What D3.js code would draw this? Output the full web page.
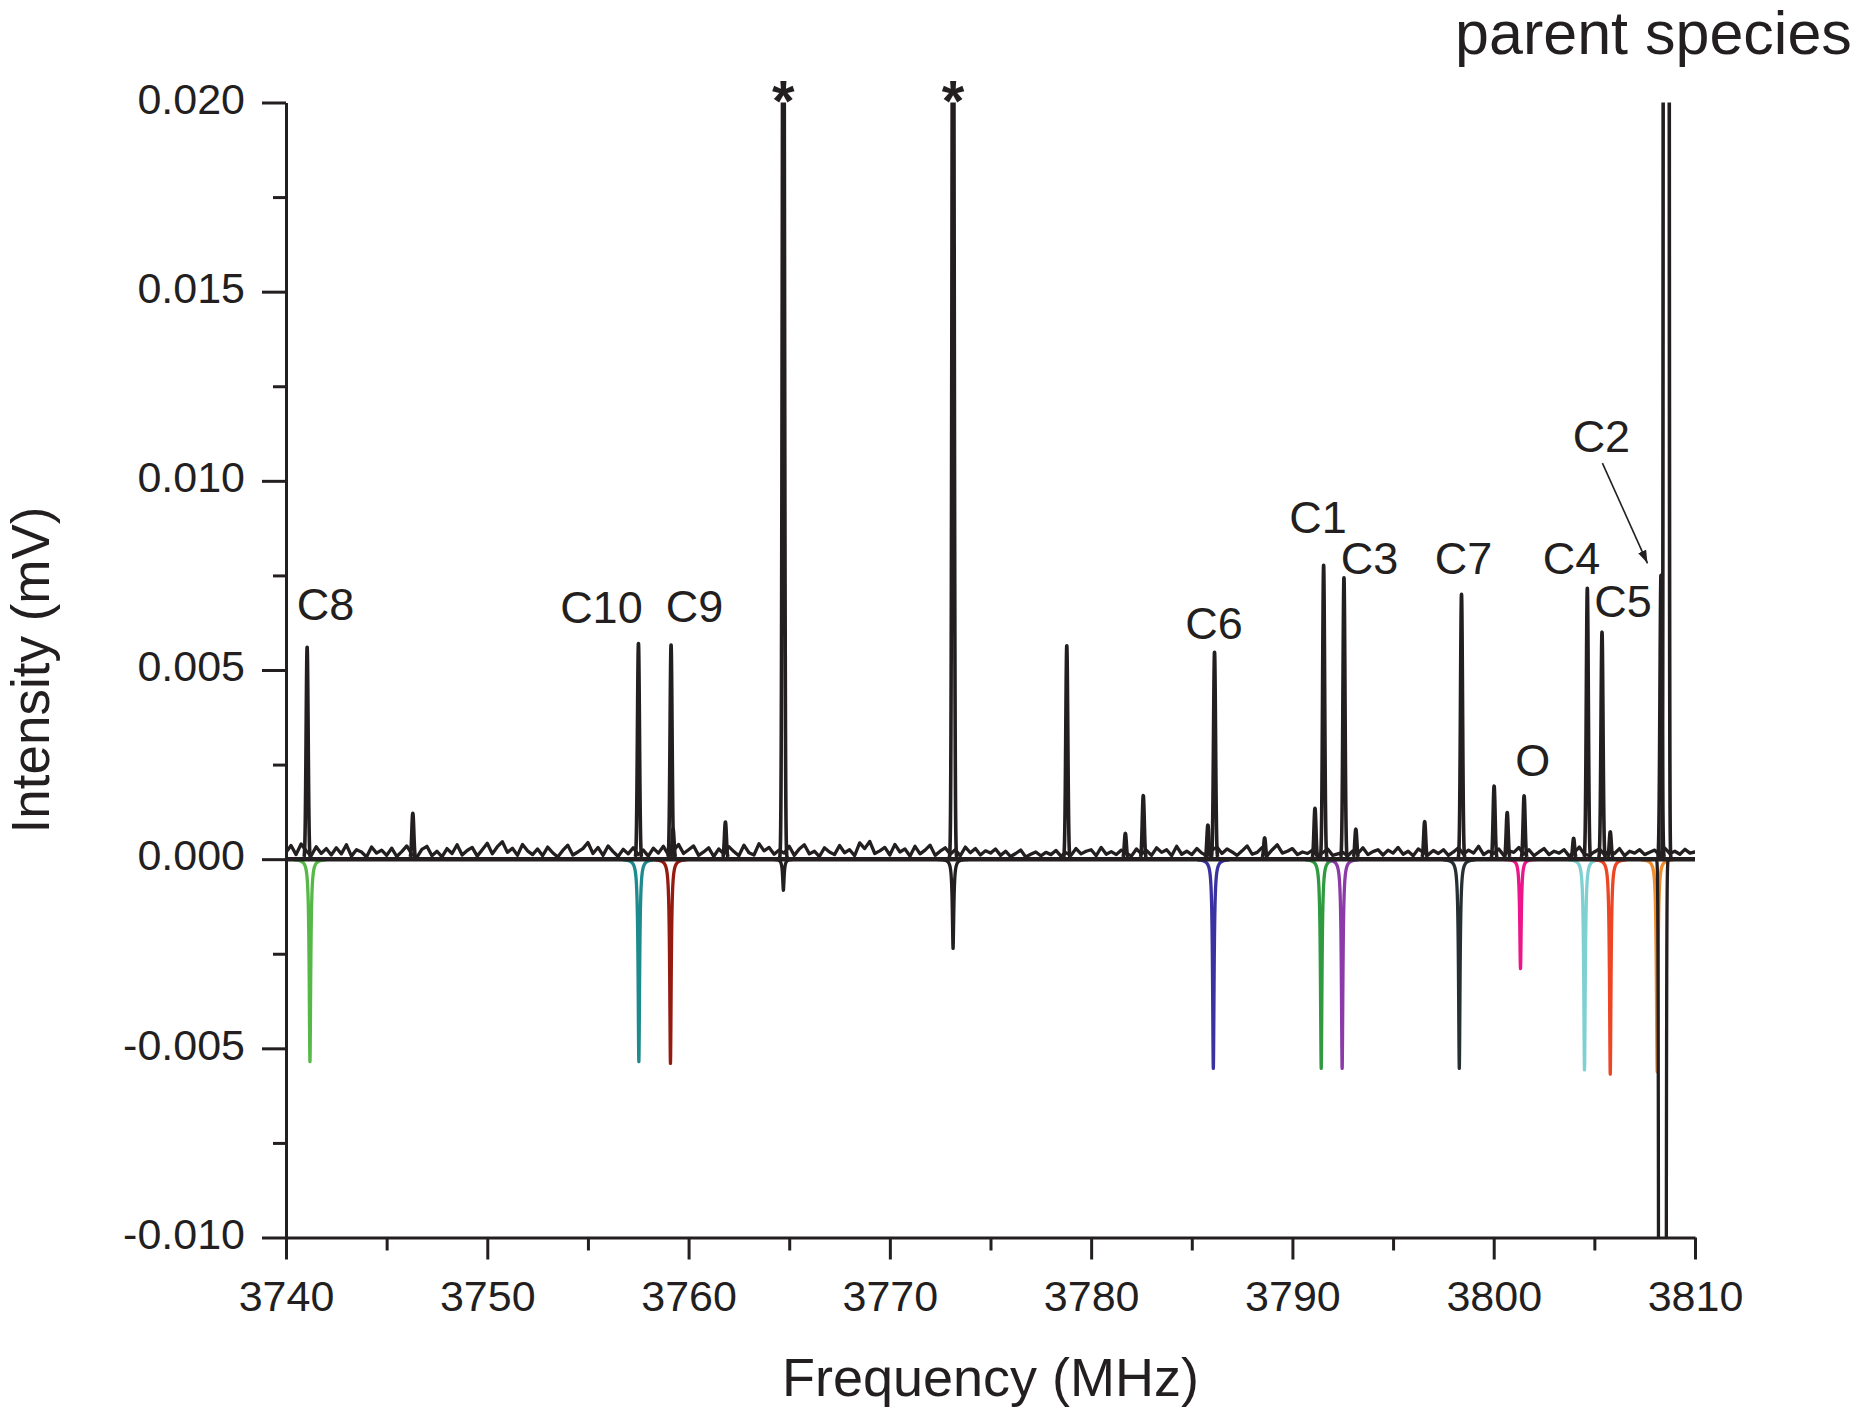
<!DOCTYPE html>
<html>
<head>
<meta charset="utf-8">
<script src="https://cdn.jsdelivr.net/npm/d3@7"></script>
<style>
  html, body { margin: 0; padding: 0; background: #ffffff; }
  svg { display: block; }
  text { font-family: "Liberation Sans", Arial, Helvetica, sans-serif; fill: #231f20; }
</style>
</head>
<body>
<svg id="chart" width="1867" height="1410"></svg>
<script>
// ---- axes ----
const freqTicks = [3740, 3750, 3760, 3770, 3780, 3790, 3800, 3810];
const freqMinorTicks = [3745, 3755, 3765, 3775, 3785, 3795, 3805];
const intensityTicks = [-0.010, -0.005, 0.000, 0.005, 0.010, 0.015, 0.020];
const intensityMinorTicks = [-0.0075, -0.0025, 0.0025, 0.0075, 0.0125, 0.0175];

// ---- measured spectrum: baseline noise, 0.25 MHz steps from 3740 MHz, in units of 1e-5 mV ----
const noiseStart = 3740;
const noiseStep = 0.25;
const noiseLevels = [
  18, 36, 12, 40, 22, 9, 33, 15, 28, 11,
  30, 14, 38, 8, 25, 19, 6, 32, 16, 24,
  10, 29, 7, 20, 35, 13, 5, 26, 34, 9,
  21, 6, 28, 15, 38, 11, 23, 31, 8, 25,
  42, 14, 33, 46, 18, 29, 10, 39, 22, 12,
  27, 9, 32, 17, 6, 23, 37, 11, 19, 28,
  44, 15, 31, 10, 35, 20, 7, 26, 14, 30,
  12, 24, 8, 29, 16, 34, 11, 22, 39, 15,
  25, 35, 10, 19, 30, 7, 27, 14, 33, 20,
  9, 37, 17, 11, 41, 22, 31, 13, 24, 16,
  34, 10, 27, 38, 14, 21, 7, 30, 19, 12,
  36, 17, 25, 9, 43, 28, 47, 15, 22, 31,
  11, 39, 19, 27, 8, 34, 14, 24, 37, 10,
  21, 30, 13, 25, 9, 32, 17, 28, 11, 22,
  16, 27, 10, 21, 7, 15, 24, 6, 13, 19,
  9, 18, 12, 23, 8, 17, 10, 28, 14, 21,
  25, 9, 31, 13, 20, 12, 24, 16, 8, 27,
  14, 23, 10, 30, 18, 25, 9, 34, 13, 21,
  12, 28, 16, 9, 24, 32, 15, 27, 19, 10,
  22, 35, 13, 18, 31, 10, 25, 38, 16, 21,
  28, 12, 19, 15, 24, 8, 17, 27, 10, 14,
  18, 9, 22, 15, 30, 12, 20, 25, 11, 24,
  16, 31, 13, 21, 9, 27, 18, 12, 23, 15,
  25, 10, 19, 30, 13, 24, 16, 34, 12, 21,
  15, 27, 10, 22, 18, 31, 13, 25, 9, 19,
  28, 12, 21, 16, 25, 8, 18, 32, 13, 10,
  19, 27, 12, 22, 15, 28, 9, 21, 16, 25,
  12, 18, 24, 10, 29, 15, 21, 13, 26, 16,
  19
];

// ---- measured transitions: centre frequency (MHz) and intensity (mV) ----
const obsFreq = [
  3741.05, 3746.30, 3757.51, 3759.13, 3759.23, 3761.83, 3764.71, 3773.14,
  3778.79, 3781.70, 3782.59, 3785.80, 3786.13, 3788.62, 3791.12, 3791.55,
  3792.56, 3793.15, 3796.57, 3798.40, 3800.02, 3800.67, 3801.51, 3803.97,
  3804.65, 3805.38, 3805.79, 3808.31, 3808.57
];
const obsIntensity = [
  0.00560, 0.00121, 0.00570, 0.00566, 0.00080, 0.00098, 0.03000, 0.03000,
  0.00564, 0.00068, 0.00168, 0.00090, 0.00547, 0.00056, 0.00134, 0.00777,
  0.00744, 0.00079, 0.00099, 0.00700, 0.00193, 0.00123, 0.00167, 0.00055,
  0.00716, 0.00600, 0.00072, 0.00750, 2.00000
];

// ---- simulated spectra, plotted downwards, one transition per species ----
const simSpecies = ["C8", "C10", "C9", "unassigned", "unassigned", "C6", "C1", "C3",
                    "C7", "O", "C4", "C5", "C2", "parent"];
const simFreq = [3741.19, 3757.53, 3759.10, 3764.71, 3773.14, 3786.07, 3791.43, 3792.47,
                 3798.29, 3801.33, 3804.51, 3805.79, 3808.12, 3808.38];
const simIntensity = [-0.00535, -0.00535, -0.00540, -0.00082, -0.00236, -0.00553, -0.00553, -0.00553,
                      -0.00553, -0.00289, -0.00557, -0.00568, -0.00562, -2.00000];

// ---- annotations: text with anchor frequency (MHz) and intensity (mV) ----
const labelText = ["C8", "C10", "C9", "C6", "C1", "C3", "C7", "O", "C4", "C5", "C2"];
const labelFreq = [3741.96, 3755.67, 3760.29, 3786.10, 3791.27, 3793.83, 3798.50, 3801.94, 3803.86, 3806.42, 3805.35];
const labelIntensity = [0.00632, 0.00623, 0.00627, 0.00581, 0.00861, 0.00755, 0.00755, 0.00220, 0.00753, 0.00640, 0.01076];
const starFreq = [3764.71, 3773.14];
const starIntensity = [0.0195, 0.0195];
const arrowFrom = [3805.40, 0.01047];
const arrowTo = [3807.64, 0.00782];
const topNote = { text: "parent species", freq: 3798.08, intensity: 0.02127 };

// ---- styles ----
const ink = "#231f20";
const speciesColor = {
  C8: "#56b947", C10: "#1d8a8e", C9: "#951a10", unassigned: ink, C6: "#3a32a0",
  C1: "#2f9a3f", C3: "#8b3aa8", C7: "#263034", O: "#ec168a", C4: "#7fd0d2",
  C5: "#ee4524", C2: "#f08c2c", parent: ink
};
// line-shape parameters (MHz)
const obsSigma = 0.05;       // Gaussian width of measured lines
const simGamma = 0.045;      // Lorentzian half-width of simulated lines
const parentSimSigma = 0.06; // Gaussian width of the simulated parent line

// ---- scales ----
const x = d3.scaleLinear().domain([3740, 3810]).range([286, 1695]);
const y = d3.scaleLinear().domain([-0.010, 0.020]).range([1237.5, 102.5]);

const svg = d3.select("#chart");

// plot-area clip
svg.append("defs").append("clipPath").attr("id", "plotClip")
  .append("rect")
  .attr("x", x(3740)).attr("y", y(0.020))
  .attr("width", x(3810) - x(3740)).attr("height", y(-0.010) - y(0.020));

svg.select("defs").append("marker")
  .attr("id", "arrowHead")
  .attr("markerUnits", "userSpaceOnUse")
  .attr("viewBox", "0 0 12 8")
  .attr("markerWidth", 13).attr("markerHeight", 9)
  .attr("refX", 12).attr("refY", 4)
  .attr("orient", "auto")
  .append("path").attr("d", "M0,0 L12,4 L0,8 Z").attr("fill", ink);

const line = d3.line().x(d => x(d[0])).y(d => y(d[1]));

// sampled line profile around one transition
function profile(center, height, kind, width) {
  const pts = [];
  const span = 0.8, step = 0.004;
  for (let f = center - span; f <= center + span + 1e-9; f += step) {
    const u = (f - center) / width;
    const v = kind === "gauss" ? height * Math.exp(-0.5 * u * u) : height / (1 + u * u);
    pts.push([f, v]);
  }
  return pts;
}

const plot = svg.append("g").attr("clip-path", "url(#plotClip)");

// simulated spectra (below zero)
const sims = simFreq.map((f, i) => ({ f, v: simIntensity[i], sp: simSpecies[i] }));
plot.append("g").selectAll("path").data(sims).join("path")
  .attr("d", d => d.sp === "parent"
    ? line(profile(d.f, d.v, "gauss", parentSimSigma))
    : line(profile(d.f, d.v, "lorentz", simGamma)))
  .attr("fill", "none")
  .attr("stroke", d => speciesColor[d.sp])
  .attr("stroke-width", 3.3)
  .attr("stroke-linejoin", "round");

// measured spectrum: zero floor, noise and lines
const obs = plot.append("g").attr("fill", "none").attr("stroke", ink)
  .attr("stroke-linejoin", "round").attr("stroke-linecap", "round");

obs.append("path")
  .attr("d", line([[x.domain()[0], 0], [x.domain()[1], 0]]))
  .attr("stroke-width", 4.5);

obs.append("path")
  .attr("d", line(noiseLevels.map((v, i) => [noiseStart + i * noiseStep, v * 1e-5])))
  .attr("stroke-width", 3.3);

obs.selectAll("path.peak").data(obsFreq.map((f, i) => ({ f, v: obsIntensity[i] })))
  .join("path").attr("class", "peak")
  .attr("d", d => line(profile(d.f, d.v, "gauss", obsSigma)))
  .attr("stroke-width", 3.6);

// ---- axes ----
const axisW = 3;
svg.append("g").attr("transform", `translate(0,${y(-0.010)})`)
  .call(d3.axisBottom(x).tickValues(freqTicks).tickFormat(d3.format("d"))
    .tickSize(22).tickSizeOuter(0).tickPadding(20.5));
svg.append("g").attr("transform", `translate(0,${y(-0.010)})`)
  .call(d3.axisBottom(x).tickValues(freqMinorTicks).tickFormat("")
    .tickSize(13).tickSizeOuter(0))
  .call(g => g.select(".domain").remove());

const gy = svg.append("g").attr("transform", `translate(${x(3740)},0)`)
  .call(d3.axisLeft(y).tickValues(intensityTicks).tickFormat(d => d.toFixed(3))
    .tickSize(24).tickSizeOuter(0).tickPadding(17));
svg.append("g").attr("transform", `translate(${x(3740)},0)`)
  .call(d3.axisLeft(y).tickValues(intensityMinorTicks).tickFormat("")
    .tickSize(13).tickSizeOuter(0))
  .call(g => g.select(".domain").remove());

svg.selectAll(".domain, .tick line").attr("stroke", ink).attr("stroke-width", axisW);
svg.selectAll(".tick text").attr("fill", ink).attr("font-size", 43)
  .attr("font-family", "Liberation Sans, Arial, sans-serif");
gy.selectAll(".tick text").attr("dy", "0.25em");

// axis titles
svg.append("text")
  .attr("x", (x(3740) + x(3810)) / 2).attr("y", 1396)
  .attr("text-anchor", "middle").attr("font-size", 54)
  .text("Frequency (MHz)");
svg.append("text")
  .attr("transform", `translate(49,${(y(0.020) + y(-0.010)) / 2}) rotate(-90)`)
  .attr("text-anchor", "middle").attr("font-size", 53)
  .text("Intensity (mV)");

// ---- annotations ----
svg.append("g").selectAll("text")
  .data(labelText.map((t, i) => ({ t, f: labelFreq[i], v: labelIntensity[i] })))
  .join("text")
  .attr("x", d => x(d.f)).attr("y", d => y(d.v))
  .attr("text-anchor", "middle").attr("font-size", 45)
  .text(d => d.t);

svg.append("g").selectAll("text")
  .data(starFreq.map((f, i) => ({ f, v: starIntensity[i] })))
  .join("text")
  .attr("x", d => x(d.f)).attr("y", d => y(d.v))
  .attr("text-anchor", "middle").attr("font-size", 58).attr("font-weight", "bold")
  .text("*");

svg.append("line")
  .attr("x1", x(arrowFrom[0])).attr("y1", y(arrowFrom[1]))
  .attr("x2", x(arrowTo[0])).attr("y2", y(arrowTo[1]))
  .attr("stroke", ink).attr("stroke-width", 1.6)
  .attr("marker-end", "url(#arrowHead)");

svg.append("text")
  .attr("x", x(topNote.freq)).attr("y", y(topNote.intensity))
  .attr("font-size", 61)
  .text(topNote.text);
</script>
</body>
</html>
